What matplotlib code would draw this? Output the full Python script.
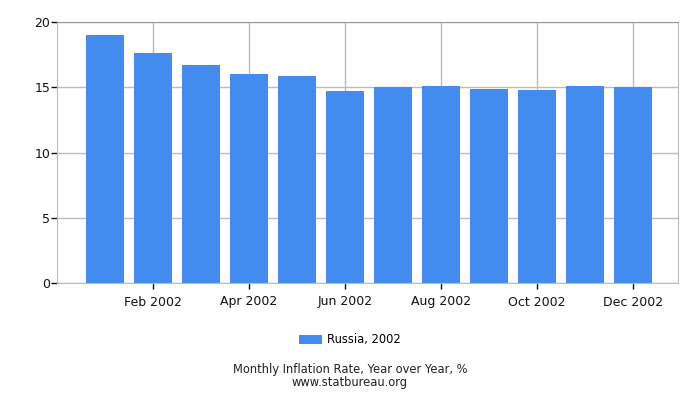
#!/usr/bin/env python3
"""
Monthly inflation rate bar chart, Russia 2002.
"""
import matplotlib
matplotlib.use('Agg')
import matplotlib.pyplot as plt
import numpy as np

months = ['Jan 2002', 'Feb 2002', 'Mar 2002', 'Apr 2002', 'May 2002',
          'Jun 2002', 'Jul 2002', 'Aug 2002', 'Sep 2002', 'Oct 2002',
          'Nov 2002', 'Dec 2002']
rates = [19.0, 17.6, 16.7, 16.0, 15.9, 14.7, 15.0, 15.1, 14.9, 14.8,
         15.1, 15.0]
series_label = 'Russia, 2002'
caption = 'Monthly Inflation Rate, Year over Year, %\nwww.statbureau.org'
yticks = [0, 5, 10, 15, 20]

plt.rcParams['font.family'] = ['DejaVu Sans']

fig = plt.figure(figsize=(7, 4), dpi=100)
ax = fig.add_axes([57 / 700, 1 - 283 / 400, (678 - 57) / 700, (283 - 22) / 400])

x = np.arange(len(months))
ax.bar(x, rates, width=0.79, color='#428bef', zorder=2, label=series_label)

ax.set_xlim(-1.0, 11.94)
ax.set_ylim(0, 20)
ax.set_yticks(yticks)
ax.set_xticks(x[1::2])
ax.set_xticklabels(months[1::2])

# light grid, light frame, dark ticks
ax.grid(True, color='#bbbbbb', lw=1, zorder=0)
for side in ('left', 'bottom', 'right'):
    ax.spines[side].set_color('#bbbbbb')
ax.spines['top'].set_color('#999999')
ax.tick_params(axis='both', direction='out', length=4, width=1,
               colors='#111111', labelsize=9)
ax.tick_params(axis='y', pad=1)
ax.tick_params(axis='x', pad=5)

fig.legend(loc='center', bbox_to_anchor=(0.5, 1 - 340 / 400), frameon=False,
           fontsize=8.3, handlelength=2.0, handleheight=0.9, handletextpad=0.4)
fig.text(0.5, 1 - 376 / 400, caption, ha='center', va='center',
         fontsize=8.3, color='#222222', linespacing=1.0)

fig.savefig('out.png', dpi=100)
